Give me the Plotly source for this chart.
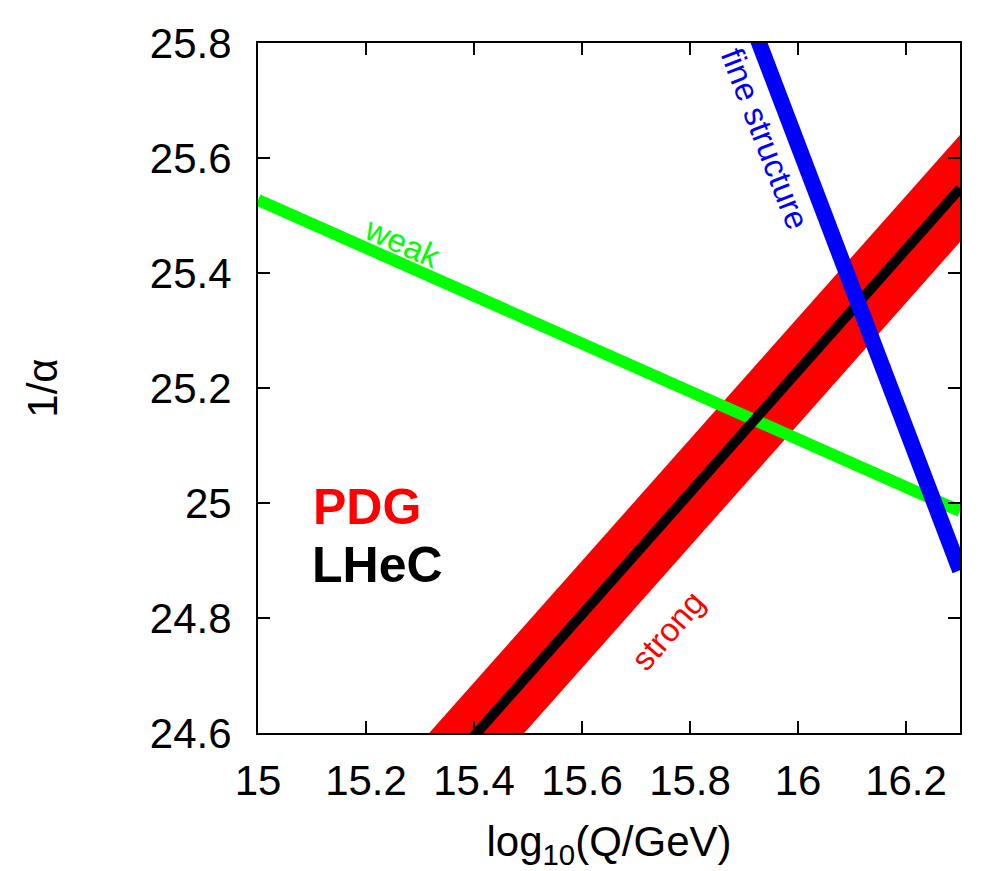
import plotly.graph_objects as go

# Data
weak_x = [15.0, 16.3]
weak_y = [25.527, 24.986]

fine_x = [15.9, 16.3]
fine_y = [25.869, 24.883]

strong_x = [15.3, 15.6, 16.0, 16.3]
strong_center = [24.489, 24.806, 25.229, 25.547]
strong_err = [0.093, 0.093, 0.093, 0.093]

x_ticks = [15.0, 15.2, 15.4, 15.6, 15.8, 16.0, 16.2]
x_ticktext = ["15", "15.2", "15.4", "15.6", "15.8", "16", "16.2"]
y_ticks = [24.6, 24.8, 25.0, 25.2, 25.4, 25.6, 25.8]
y_ticktext = ["24.6", "24.8", "25", "25.2", "25.4", "25.6", "25.8"]

FONT = "Liberation Sans, Arial, Helvetica, sans-serif"

strong_hi = [c + e for c, e in zip(strong_center, strong_err)]
strong_lo = [c - e for c, e in zip(strong_center, strong_err)]

fig = go.Figure()
fig.add_trace(go.Scatter(
    x=strong_x + strong_x[::-1], y=strong_hi + strong_lo[::-1],
    fill="toself", fillcolor="#ff0000", mode="lines",
    line=dict(width=0, color="#ff0000"), hoverinfo="skip", showlegend=False))
fig.add_trace(go.Scatter(x=weak_x, y=weak_y, mode="lines",
                         line=dict(color="#00ff00", width=12), showlegend=False))
fig.add_trace(go.Scatter(x=strong_x, y=strong_center, mode="lines",
                         line=dict(color="#000000", width=10), showlegend=False))
fig.add_trace(go.Scatter(x=fine_x, y=fine_y, mode="lines",
                         line=dict(color="#0000ff", width=16), showlegend=False))

ann = [
    dict(x=15.267, y=25.453, text="weak", textangle=24, font=dict(size=33, color="#00ff00")),
    dict(x=15.939, y=25.634, text="fine structure", textangle=69, font=dict(size=33, color="#0000ff")),
    dict(x=15.759, y=24.778, text="strong", textangle=-49, font=dict(size=33, color="#ff0000")),
    dict(x=15.202, y=24.993, text="<b>PDG</b>", font=dict(size=50, color="#ff0000")),
    dict(x=15.222, y=24.892, text="<b>LHeC</b>", font=dict(size=50, color="#000000")),
]
for a in ann:
    a.update(xref="x", yref="y", showarrow=False, xanchor="center", yanchor="middle")
    a["font"]["family"] = FONT
fig.update_layout(annotations=ann)

axis_common = dict(
    showline=True, linecolor="black", linewidth=2, mirror="ticks",
    ticks="inside", ticklen=12, tickwidth=2, tickcolor="black",
    showgrid=False, zeroline=False,
    tickfont=dict(family=FONT, size=42, color="black"),
)
fig.update_xaxes(range=[15.0, 16.3], tickvals=x_ticks, ticktext=x_ticktext,
                 ticklabelstandoff=10,
                 title=dict(text="log<sub>10</sub>(Q/GeV)", font=dict(family=FONT, size=42, color="black"),
                            standoff=25),
                 **axis_common)
fig.update_yaxes(range=[24.6, 25.8], tickvals=y_ticks, ticktext=y_ticktext,
                 ticklabelstandoff=16,
                 title=dict(text="1/α", font=dict(family=FONT, size=42, color="black"),
                            standoff=79),
                 **axis_common)

fig.update_layout(
    width=980, height=863,
    margin=dict(l=250, r=28, t=26, b=135),
    plot_bgcolor="white", paper_bgcolor="white",
    showlegend=False,
)
fig.write_html("out.html")
